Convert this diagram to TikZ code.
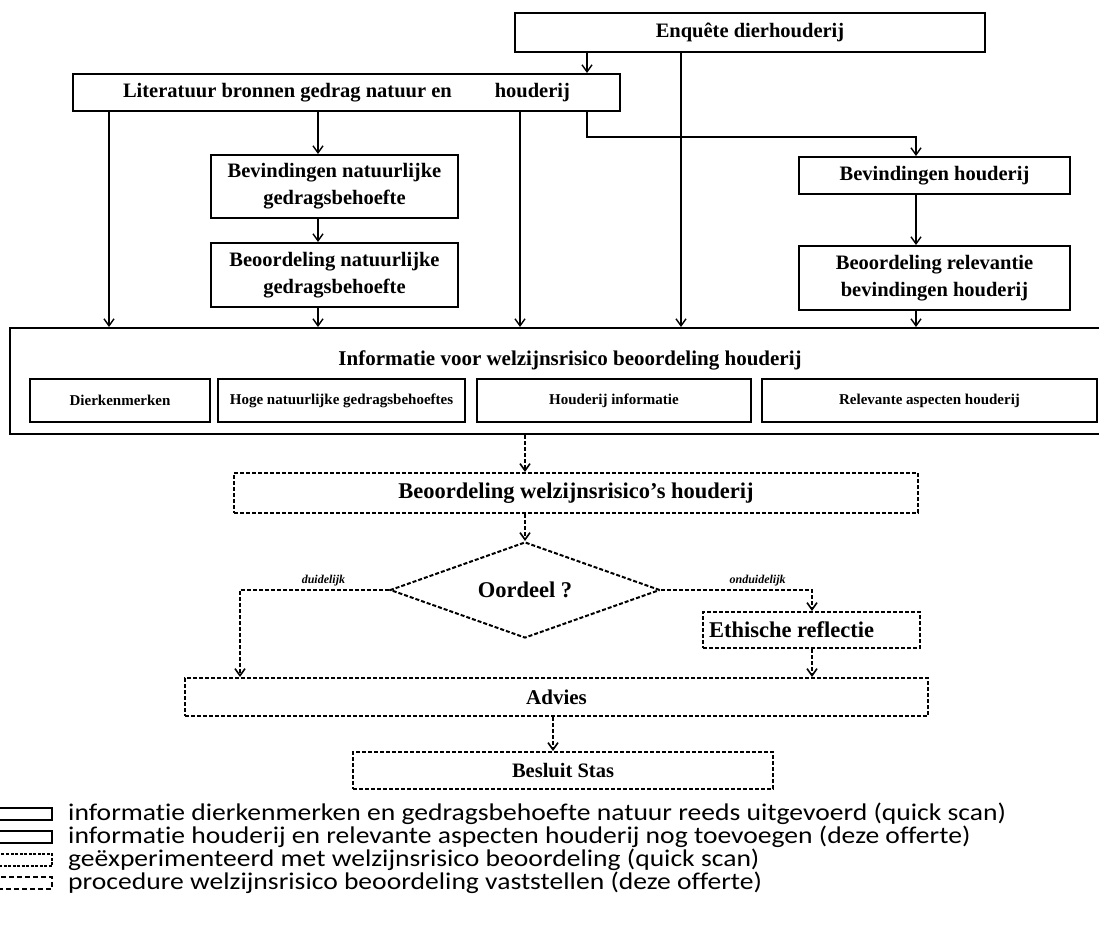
\documentclass[tikz,border=0pt]{standalone}
\usepackage{fontspec}
\setmainfont{Liberation Serif}
\newfontfamily\legendfont[FakeStretch=1.15, Ligatures=NoCommon]{Carlito}
\usetikzlibrary{shapes.geometric,arrows.meta}
\tikzstyle{solidbox} = [draw, line width=2pt, inner sep=0pt, align=center, font=\bfseries\fontsize{20.5}{27}\selectfont]
\tikzstyle{subbox} = [solidbox, font=\bfseries\fontsize{15}{18}\selectfont]
\tikzstyle{dashbox} = [solidbox, dash pattern=on 4pt off 2pt, font=\bfseries\fontsize{22.5}{27}\selectfont]
\tikzstyle{link} = [->, line width=1.4pt]
\tikzstyle{dlink} = [->, line width=1.6pt, dash pattern=on 4pt off 2pt]
\tikzstyle{lbl} = [font=\bfseries\itshape\fontsize{12}{14}\selectfont]
\tikzstyle{legendtxt} = [anchor=west, inner sep=0pt, font=\legendfont\fontsize{24}{26}\selectfont]

\begin{document}
\begin{tikzpicture}[x=1pt, y=-1pt, >={Straight Barb[length=7pt,width=10pt]}]
  \useasboundingbox (0,0) rectangle (1099,924);
  % columns of the vertical connectors
  \coordinate (xa) at (109,0);
  \coordinate (xb) at (318,0);
  \coordinate (xc) at (520,0);
  \coordinate (xd) at (587,0);
  \coordinate (xe) at (681,0);
  \coordinate (xf) at (916,0);
  \coordinate (kink) at (916,137);
  \coordinate (xg) at (525,0);
  \coordinate (xl) at (240,0);
  \coordinate (xr) at (812,0);
  \coordinate (xs) at (553,0);

  \node (enq) at (750,32.5) [solidbox, minimum width=470, minimum height=39] {Enquête dierhouderij};
  \node (lit) at (346.5,92.5) [solidbox, minimum width=547, minimum height=37] {Literatuur bronnen gedrag natuur en\hspace{43pt}houderij};
  \node (bevnat) at (334.5,186.5) [solidbox, minimum width=247, minimum height=63] {Bevindingen natuurlijke\\gedragsbehoefte};
  \node (beonat) at (334.5,275) [solidbox, minimum width=247, minimum height=64] {Beoordeling natuurlijke\\gedragsbehoefte};
  \node (bevhou) at (934.5,175.5) [solidbox, minimum width=271, minimum height=37] {Bevindingen houderij};
  \node (beorel) at (934.5,278) [solidbox, minimum width=271, minimum height=64] {Beoordeling relevantie\\bevindingen houderij};

  \node (info) at (560,381) [solidbox, minimum width=1100, minimum height=106] {};
  \node (infotitle) at (570,360) [font=\bfseries\fontsize{21}{26}\selectfont] {Informatie voor welzijnsrisico beoordeling houderij};
  \node (dk) at (120,400.5) [subbox, minimum width=180, minimum height=43] {Dierkenmerken};
  \node (hoge) at (341.5,400.5) [subbox, minimum width=247, minimum height=43] {Hoge natuurlijke gedragsbehoeftes};
  \node (hi) at (614,400.5) [subbox, minimum width=274, minimum height=43] {Houderij informatie};
  \node (rel) at (929.5,400.5) [subbox, minimum width=335, minimum height=43] {Relevante aspecten houderij};

  \node (beow) at (576,493) [dashbox, minimum width=684, minimum height=40] {Beoordeling welzijnsrisico’s houderij};
  \node (dia) at (525,590) [dashbox, diamond, shape aspect=2.8, minimum width=270, minimum height=96] {Oordeel ?};
  \node (eth) at (811.5,630) [dashbox, minimum height=36, text width=205, inner sep=6pt, align=flush left] {Ethische reflectie};
  \node (adv) at (556.5,697) [dashbox, minimum width=743, minimum height=38, font=\bfseries\fontsize{21}{26}\selectfont] {Advies};
  \node (bes) at (563,770.5) [dashbox, minimum width=420, minimum height=37, font=\bfseries\fontsize{20.5}{24}\selectfont] {Besluit Stas};

  \draw [link] (enq.south -| xd) -- (lit.north -| xd);
  \draw [link] (enq.south -| xe) -- (info.north -| xe);
  \draw [link] (lit.south -| xa) -- (info.north -| xa);
  \draw [link] (lit.south -| xc) -- (info.north -| xc);
  \draw [link] (lit.south -| xb) -- (bevnat.north -| xb);
  \draw [link] (bevnat.south -| xb) -- (beonat.north -| xb);
  \draw [link] (beonat.south -| xb) -- (info.north -| xb);
  \draw [link] (lit.south -| xd) |- (kink) -- (bevhou.north -| kink);
  \draw [link] (bevhou.south -| xf) -- (beorel.north -| xf);
  \draw [link] (beorel.south -| xf) -- (info.north -| xf);

  \draw [dlink] (info.south -| xg) -- (beow.north -| xg);
  \draw [dlink] (beow.south -| xg) -- (dia.north);
  \draw [dlink] (dia.west) -| (adv.north -| xl) node [lbl, pos=0.22, above] {duidelijk};
  \draw [dlink] (dia.east) -| (eth.north -| xr) node [lbl, pos=0.32, above] {onduidelijk};
  \draw [dlink] (eth.south -| xr) -- (adv.north -| xr);
  \draw [dlink] (adv.south -| xs) -- (bes.north -| xs);

  % legend
  \node (lg1) at (21,814) [draw, line width=2.2pt, minimum width=62, minimum height=12] {};
  \node (lg2) at (21,837) [draw, line width=1.6pt, minimum width=62, minimum height=12] {};
  \node (lg3) at (21,860) [draw, line width=1.6pt, dash pattern=on 3pt off 1.5pt, minimum width=62, minimum height=12] {};
  \node (lg4) at (21,883) [draw, line width=1.6pt, dash pattern=on 5pt off 3pt, minimum width=62, minimum height=12] {};
  \node (lt1) at (68,814) [legendtxt] {informatie dierkenmerken en gedragsbehoefte natuur reeds uitgevoerd (quick scan)};
  \node (lt2) at (68,837) [legendtxt] {informatie houderij en relevante aspecten houderij nog toevoegen (deze offerte)};
  \node (lt3) at (68,860) [legendtxt] {geëxperimenteerd met welzijnsrisico beoordeling (quick scan)};
  \node (lt4) at (68,883) [legendtxt] {procedure welzijnsrisico beoordeling vaststellen (deze offerte)};
\end{tikzpicture}
\end{document}
